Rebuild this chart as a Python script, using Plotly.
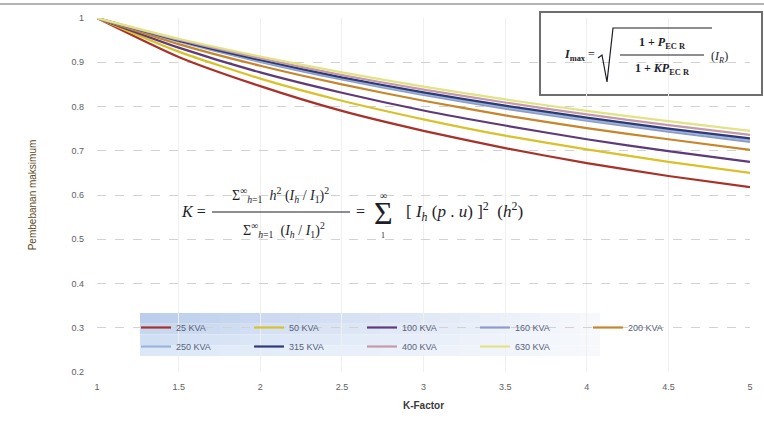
import plotly.graph_objects as go

# K-factor values along the horizontal axis
k_factor = [1, 1.5, 2, 2.5, 3, 3.5, 4, 4.5, 5]

# Maximum loading (p.u.) per transformer rating
kva_25 = [1, 0.912, 0.846, 0.790, 0.745, 0.706, 0.672, 0.643, 0.618]
kva_50 = [1, 0.924, 0.863, 0.813, 0.771, 0.734, 0.703, 0.675, 0.650]
kva_100 = [1, 0.933, 0.877, 0.831, 0.791, 0.757, 0.726, 0.699, 0.675]
kva_160 = [1, 0.947, 0.901, 0.861, 0.826, 0.795, 0.768, 0.743, 0.720]
kva_200 = [1, 0.941, 0.892, 0.850, 0.813, 0.780, 0.751, 0.726, 0.702]
kva_250 = [1, 0.948, 0.903, 0.864, 0.829, 0.799, 0.771, 0.747, 0.724]
kva_315 = [1, 0.949, 0.905, 0.866, 0.832, 0.802, 0.775, 0.750, 0.728]
kva_400 = [1, 0.951, 0.909, 0.871, 0.838, 0.809, 0.782, 0.758, 0.736]
kva_630 = [1, 0.953, 0.913, 0.877, 0.845, 0.816, 0.790, 0.767, 0.745]

series_names = ["25 KVA", "50 KVA", "100 KVA", "160 KVA", "200 KVA",
                "250 KVA", "315 KVA", "400 KVA", "630 KVA"]
series_values = [kva_25, kva_50, kva_100, kva_160, kva_200,
                 kva_250, kva_315, kva_400, kva_630]
series_colors = ["#a8322a", "#d8c22a", "#5e3a78", "#8e9cc4", "#c8862a",
                 "#98b4d8", "#2e3a78", "#c49aa8", "#e2e286"]

x_ticks = [1, 1.5, 2, 2.5, 3, 3.5, 4, 4.5, 5]
x_tick_labels = ["1", "1.5", "2", "2.5", "3", "3.5", "4", "4.5", "5"]
y_ticks = [0.2, 0.3, 0.4, 0.5, 0.6, 0.7, 0.8, 0.9, 1]
y_tick_labels = ["0.2", "0.3", "0.4", "0.5", "0.6", "0.7", "0.8", "0.9", "1"]

W, H = 764, 434
M_L, M_R, M_T, M_B = 97, 14, 18, 62
PW, PH = W - M_L - M_R, H - M_T - M_B


def px_x(p):
    return (p - M_L) / PW


def px_y(p):
    return (H - M_B - p) / PH


fig = go.Figure()
for name, vals, col in zip(series_names, series_values, series_colors):
    fig.add_trace(go.Scatter(
        x=k_factor, y=vals, name=name, mode="lines",
        line=dict(color=col, width=2.2, shape="spline", smoothing=0.6),
    ))

shapes = []

# soft blue gradient panel behind the legend
x0, x1, y0, y1 = 140, 600, 313, 356
ncol, nrow = 23, 4
for i in range(ncol):
    for j in range(nrow):
        t = i / (ncol - 1)
        s = j / (nrow - 1)
        left = (188 + 32 * s, 206 + 26 * s, 236 + 12 * s)
        right = (246, 248, 252)
        c = [round(left[m] * (1 - t) + right[m] * t) for m in range(3)]
        shapes.append(dict(
            type="rect", xref="paper", yref="paper", layer="between",
            x0=px_x(x0 + (x1 - x0) * i / ncol), x1=px_x(x0 + (x1 - x0) * (i + 1) / ncol),
            y0=px_y(y0 + (y1 - y0) * j / nrow), y1=px_y(y0 + (y1 - y0) * (j + 1) / nrow),
            fillcolor="rgb(%d,%d,%d)" % tuple(c), line=dict(width=0),
        ))

# thin frame line along the top of the chart area
shapes.append(dict(type="line", xref="paper", yref="paper",
                   x0=px_x(0), x1=px_x(W), y0=px_y(4), y1=px_y(4),
                   line=dict(color="#9a9a9a", width=1.5)))

# boxed formula for the maximum current
shapes.append(dict(type="rect", xref="paper", yref="paper", layer="between",
                   x0=px_x(540), x1=px_x(762), y0=px_y(12), y1=px_y(95),
                   fillcolor="white", line=dict(color="#6e6e6e", width=2)))

ink = "#1d1d28"
radical = [(598, 58), (602, 55), (607, 82), (613, 28), (712, 28)]
path = "M " + " L ".join("%f,%f" % (px_x(a), px_y(b)) for a, b in radical)
shapes.append(dict(type="path", xref="paper", yref="paper", path=path,
                   line=dict(color=ink, width=1.2)))
shapes.append(dict(type="line", xref="paper", yref="paper",
                   x0=px_x(620), x1=px_x(704), y0=px_y(55), y1=px_y(55),
                   line=dict(color=ink, width=1.2)))

# fraction bar of the K-factor definition
shapes.append(dict(type="line", xref="paper", yref="paper",
                   x0=px_x(212), x1=px_x(350), y0=px_y(212), y1=px_y(212),
                   line=dict(color=ink, width=1.2)))

serif = "Liberation Serif"


def note(text, x, y, size, anchor="center", vanchor="middle"):
    return dict(text=text, x=px_x(x), y=px_y(y), xref="paper", yref="paper",
                xanchor=anchor, yanchor=vanchor, showarrow=False,
                font=dict(family=serif, size=size, color=ink))


annotations = [
    note("<b><i>I</i><sub>max</sub></b> =", 597, 55, 12, "right"),
    note("<b>1 + <i>P</i><sub>EC R</sub></b>", 662, 43, 12),
    note("<b>1 + <i>KP</i><sub>EC R</sub></b>", 662, 69, 12),
    note("(<i>I<sub>R</sub></i>)", 719, 57, 12),
    note("<i>K</i> =", 208, 212, 16, "right"),
    note("Σ<sup>∞</sup><sub><i>h</i>=1</sub>  <i>h</i><sup>2</sup> "
         "(<i>I<sub>h</sub></i> / <i>I</i><sub>1</sub>)<sup>2</sup>", 280, 195, 14),
    note("Σ<sup>∞</sup><sub><i>h</i>=1</sub>  "
         "(<i>I<sub>h</sub></i> / <i>I</i><sub>1</sub>)<sup>2</sup>", 284, 230, 14),
    note("=", 360, 212, 16),
    note("Σ", 383, 213, 32),
    note("∞", 383, 196, 10),
    note("1", 383, 229, 8, vanchor="top"),
    note("[ <i>I<sub>h</sub></i> (<i>p</i> . <i>u</i>) ]<sup>2</sup>  (<i>h</i><sup>2</sup>)",
         404, 212, 17, "left"),
]

fig.update_layout(
    width=W, height=H,
    margin=dict(l=M_L, r=M_R, t=M_T, b=M_B),
    paper_bgcolor="white", plot_bgcolor="white",
    font=dict(family="Liberation Sans", size=9, color="#606060"),
    shapes=shapes, annotations=annotations,
    legend=dict(
        orientation="h", x=px_x(136), y=px_y(313), xanchor="left", yanchor="top",
        bgcolor="rgba(0,0,0,0)", font=dict(size=9, color="#56607a"),
        entrywidth=68, entrywidthmode="pixels", tracegroupgap=0,
    ),
    xaxis=dict(
        range=[1, 5], tickvals=x_ticks, ticktext=x_tick_labels,
        showgrid=True, gridcolor="#efefef", gridwidth=1, zeroline=False,
        showline=False, ticks="", ticklabelstandoff=8,
        title=dict(text="<b>K-Factor</b>", font=dict(size=10, color="#3a3a3a"), standoff=10),
    ),
    yaxis=dict(
        range=[0.2, 1], tickvals=y_ticks, ticktext=y_tick_labels,
        showgrid=True, gridcolor="#d2d2d2", griddash="dash", gridwidth=1,
        zeroline=False, showline=False, ticks="", ticklabelstandoff=12,
        title=dict(text="Pembebanan maksimum", font=dict(size=10, color="#5c4a1c"), standoff=32),
    ),
)

fig.write_html("out.html")
